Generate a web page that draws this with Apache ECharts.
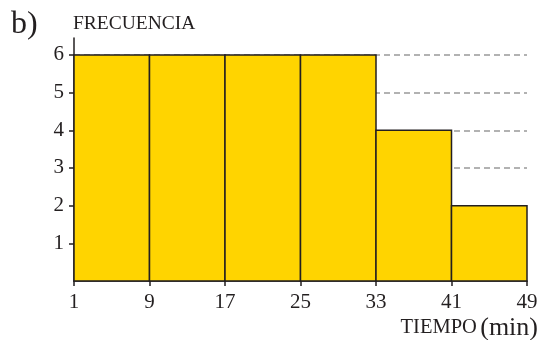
<!DOCTYPE html>
<html>
<head>
<meta charset="utf-8">
<script src="https://cdn.jsdelivr.net/npm/echarts@6/dist/echarts.min.js"></script>
<style>
  html, body { margin: 0; padding: 0; background: #fff; }
  #chart { width: 539px; height: 340px; }
</style>
</head>
<body>
<div id="chart"></div>
<script>
// intervalos de tiempo (min) y frecuencias
const binStarts = [1, 9, 17, 25, 33, 41];
const binEnds = [9, 17, 25, 33, 41, 49];
const frequencies = [6, 6, 6, 6, 4, 2];
const xTicks = [1, 9, 17, 25, 33, 41, 49];
const yTicks = [1, 2, 3, 4, 5, 6];

const ink = '#231f20';
const serif = 'Liberation Serif';

const bars = binStarts.map((s, i) => [s, binEnds[i], frequencies[i]]);

const myChart = echarts.init(document.getElementById('chart'));
const option = {
  animation: false,
  grid: { left: 74, right: 12, top: 38, bottom: 59, outerBoundsMode: 'none', containLabel: false },
  xAxis: {
    type: 'value',
    min: 1,
    max: 49,
    axisLine: { lineStyle: { color: ink, width: 1.5 } },
    axisTick: { customValues: xTicks, length: 5, lineStyle: { color: ink, width: 1.5 } },
    axisLabel: { customValues: xTicks, color: ink, fontFamily: serif, fontSize: 21, margin: 11 },
    splitLine: { show: false }
  },
  yAxis: {
    type: 'value',
    min: 0,
    max: 6.45,
    axisLine: { show: true, lineStyle: { color: ink, width: 1.5 } },
    axisTick: { show: true, customValues: yTicks, length: 5, lineStyle: { color: ink, width: 1.5 } },
    axisLabel: { customValues: yTicks, color: ink, fontFamily: serif, fontSize: 21, margin: 10 },
    splitLine: { show: true, lineStyle: { color: '#999', width: 1.5, type: [6, 4] } }
  },
  graphic: [
    { type: 'text', left: 11, top: 9, style: { text: 'b)', fontFamily: serif, fontSize: 32, fill: ink } },
    { type: 'text', left: 73, top: 14, style: { text: 'FRECUENCIA', fontFamily: serif, fontSize: 19.5, fill: ink } },
    {
      type: 'text', right: 1, top: 315,
      style: {
        text: '{a|TIEMPO} {b|(min)}',
        rich: {
          a: { fontFamily: serif, fontSize: 20.5, fill: ink },
          b: { fontFamily: serif, fontSize: 26, fill: ink }
        }
      }
    }
  ],
  series: [
    {
      type: 'custom',
      data: bars,
      z: 3,
      renderItem: function (params, api) {
        const p0 = api.coord([api.value(0), api.value(2)]);
        const p1 = api.coord([api.value(1), 0]);
        return {
          type: 'rect',
          shape: { x: p0[0], y: p0[1], width: p1[0] - p0[0], height: p1[1] - p0[1] },
          style: { fill: '#ffd400', stroke: ink, lineWidth: 1.5 }
        };
      }
    }
  ]
};
myChart.setOption(option);
</script>
</body>
</html>
